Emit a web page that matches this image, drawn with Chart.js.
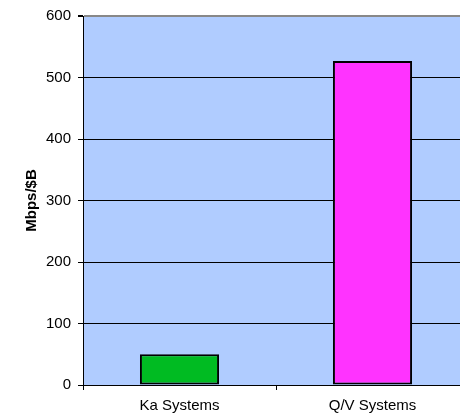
<!DOCTYPE html>
<html>
<head>
<meta charset="utf-8">
<script src="https://cdn.jsdelivr.net/npm/chart.js@4"></script>
<style>
html,body{margin:0;padding:0;background:#fff;overflow:hidden;width:460px;height:415px;}
#wrap{position:absolute;left:0;top:0;width:480px;height:415px;}
</style>
</head>
<body>
<div id="wrap"><canvas id="c" width="480" height="415"></canvas></div>
<script>
const categories = ["Ka Systems", "Q/V Systems"];
const values = [50, 527];
const barColors = ["#00bb22", "#ff33ff"];
const yTicks = [0, 100, 200, 300, 400, 500, 600];
const yTitle = "Mbps/$B";

const bgPlugin = {
  id: 'plotBg',
  beforeDraw(chart) {
    const a = chart.chartArea, ctx = chart.ctx;
    ctx.save();
    ctx.fillStyle = '#b0ccff';
    ctx.fillRect(a.left, a.top, a.right - a.left, a.bottom - a.top);
    ctx.restore();
  }
};

new Chart(document.getElementById('c'), {
  type: 'bar',
  data: {
    labels: categories,
    datasets: [{
      data: values,
      backgroundColor: barColors,
      borderColor: '#000',
      borderWidth: 2,
      borderSkipped: false,
      categoryPercentage: 1,
      barPercentage: 0.41
    }]
  },
  options: {
    responsive: false,
    animation: false,
    devicePixelRatio: 1,
    layout: { padding: { top: 15, right: 11, left: 0, bottom: 0 } },
    plugins: { legend: { display: false }, tooltip: { enabled: false } },
    scales: {
      x: {
        offset: true,
        grid: { offset: true, drawOnChartArea: false, tickLength: 5, color: '#000' },
        border: { color: '#000', width: 1 },
        ticks: { color: '#000', padding: 7, font: { family: 'Liberation Sans, Arial', size: 15 } },
        afterFit(s) { s.height = 30; }
      },
      y: {
        min: 0, max: 600,
        afterBuildTicks(s) { s.ticks = yTicks.map(v => ({ value: v })); },
        grid: {
          color: ctx => (ctx.tick && ctx.tick.value === 600) ? '#888' : '#000',
          tickColor: '#000',
          tickLength: 5,
          lineWidth: ctx => (ctx.tick && ctx.tick.value === 600) ? 2 : 1
        },
        border: { color: '#000', width: 1 },
        ticks: { color: '#000', padding: 7, font: { family: 'Liberation Sans, Arial', size: 15 } },
        title: {
          display: true, text: yTitle, color: '#000',
          font: { family: 'Liberation Sans, Arial', size: 15, weight: 'bold' },
          padding: { top: 23, bottom: 0 }
        },
        afterFit(s) { s.width = 83; }
      }
    }
  },
  plugins: [bgPlugin]
});
</script>
</body>
</html>
